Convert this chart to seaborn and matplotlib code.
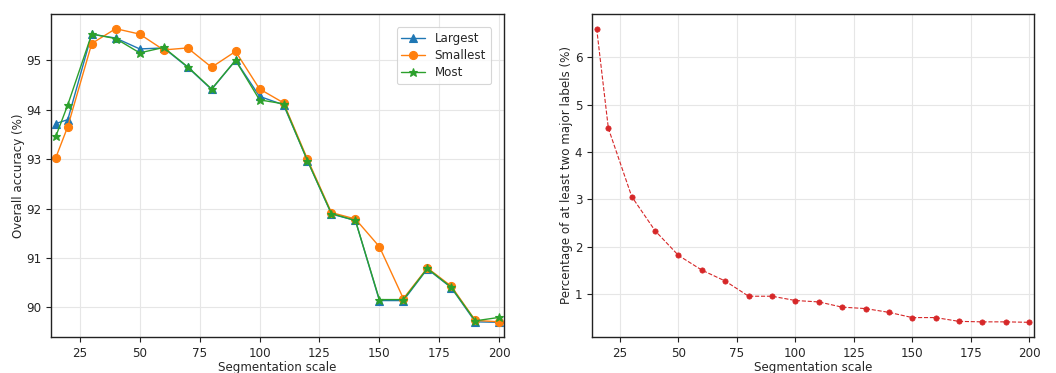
import matplotlib
matplotlib.use("Agg")
import matplotlib.pyplot as plt
import seaborn as sns
import pandas as pd

scales = [15, 20, 30, 40, 50, 60, 70, 80, 90, 100, 110, 120, 130, 140, 150, 160, 170, 180, 190, 200]
largest = [93.72, 93.80, 95.53, 95.45, 95.23, 95.25, 94.86, 94.41, 95.00, 94.27, 94.10, 92.97,
           91.89, 91.76, 90.14, 90.14, 90.78, 90.40, 89.71, 89.70]
smallest = [93.03, 93.66, 95.34, 95.64, 95.53, 95.21, 95.25, 94.86, 95.18, 94.42, 94.14, 93.00,
            91.92, 91.79, 91.23, 90.18, 90.80, 90.43, 89.74, 89.71]
most = [93.46, 94.10, 95.53, 95.44, 95.15, 95.26, 94.87, 94.42, 95.00, 94.20, 94.12, 92.97,
        91.90, 91.76, 90.16, 90.16, 90.79, 90.41, 89.73, 89.80]
pct_two_major = [6.60, 4.50, 3.06, 2.34, 1.82, 1.51, 1.28, 0.96, 0.96, 0.87, 0.84, 0.73,
                 0.70, 0.62, 0.51, 0.51, 0.43, 0.42, 0.42, 0.41]

series_names = ["Largest", "Smallest", "Most"]
series_vals = [largest, smallest, most]
markers = {"Largest": "^", "Smallest": "o", "Most": "*"}
colors = {"Largest": "#1f77b4", "Smallest": "#ff7f0e", "Most": "#2ca02c"}
msizes = {"Largest": 5.8, "Smallest": 5.8, "Most": 6.3}

sns.set_style("ticks")
plt.rcParams["font.family"] = ["DejaVu Sans"]
plt.rcParams["font.size"] = 8.6
FS = 8.6

fig, (ax1, ax2) = plt.subplots(1, 2, figsize=(10.56, 3.73), dpi=100)
bottom, top = 0.0965, 0.9625
ax1.set_position([0.0483, bottom, 0.4773 - 0.0483, top - bottom])
ax2.set_position([0.5606, bottom, 0.979 - 0.5606, top - bottom])

for name, vals in zip(series_names, series_vals):
    df = pd.DataFrame({"scale": scales, "acc": vals})
    sns.lineplot(data=df, x="scale", y="acc", ax=ax1, color=colors[name], marker=markers[name],
                 markersize=msizes[name], linewidth=1.0, label=name,
                 markeredgecolor=colors[name], markeredgewidth=0.8)

df2 = pd.DataFrame({"scale": scales, "pct": pct_two_major})
sns.lineplot(data=df2, x="scale", y="pct", ax=ax2, color="#d62728", marker="o", markersize=3.8,
             linewidth=0.8, linestyle="--", markeredgecolor="#d62728", markeredgewidth=0.5)

for ax in (ax1, ax2):
    ax.set_xlim(13, 202)
    ax.set_xticks([25, 50, 75, 100, 125, 150, 175, 200])
    ax.grid(True, color="#e6e6e6", linewidth=0.8)
    ax.set_axisbelow(True)
    for sp in ax.spines.values():
        sp.set_visible(True)
        sp.set_color("#222222")
        sp.set_linewidth(1.0)
    ax.tick_params(axis="both", labelsize=FS, length=3.5, width=0.8, color="#222222",
                   direction="out", pad=3.5)
    ax.set_xlabel("Segmentation scale", fontsize=FS, labelpad=1)

ax1.set_yticks([90, 91, 92, 93, 94, 95])
ax1.set_ylabel("Overall accuracy (%)", fontsize=FS, labelpad=1)
ax2.set_yticks([1, 2, 3, 4, 5, 6])
ax2.set_ylabel("Percentage of at least two major labels (%)", fontsize=FS, labelpad=1)

leg = ax1.legend(loc="upper right", fontsize=FS, frameon=True, fancybox=True,
                 borderaxespad=1.1, handlelength=2.0, labelspacing=0.35)
leg.get_frame().set_edgecolor("#cccccc")
leg.get_frame().set_linewidth(0.8)

fig.savefig("out.png", dpi=100)
